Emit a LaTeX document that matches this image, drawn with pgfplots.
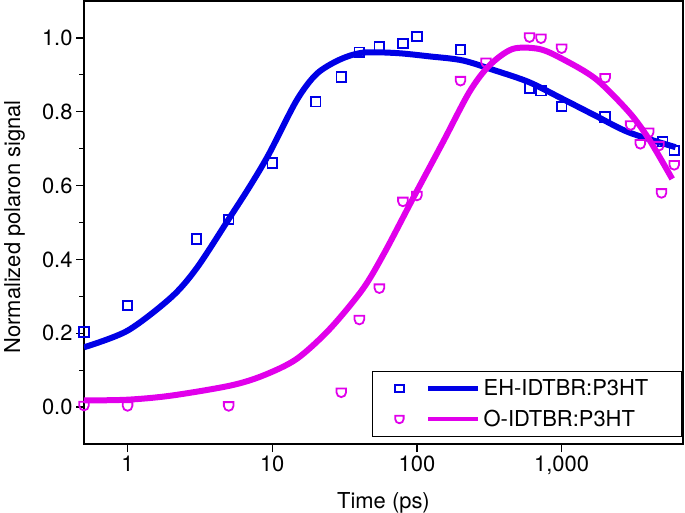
\documentclass[border=0pt]{standalone}
\usepackage{pgfplots}
\pgfplotsset{compat=1.18}
\usepackage{fontspec}
\setmainfont{TeX Gyre Heros}
\definecolor{eh}{RGB}{0,0,230}
\definecolor{oo}{RGB}{225,0,235}
% cup-shaped open marker (flat top, round bottom)
\pgfdeclareplotmark{cup}{%
  \pgfpathmoveto{\pgfqpoint{-\pgfplotmarksize}{0.8\pgfplotmarksize}}%
  \pgfpathlineto{\pgfqpoint{\pgfplotmarksize}{0.8\pgfplotmarksize}}%
  \pgfpathlineto{\pgfqpoint{\pgfplotmarksize}{0pt}}%
  \pgfpatharc{0}{-180}{\pgfplotmarksize}%
  \pgfpathclose
  \pgfusepathqstroke}
\begin{document}
\begin{tikzpicture}
\begin{axis}[
  scale only axis,
  width=599bp,
  height=443bp,
  xmode=log,
  log basis x=10,
  xmin=0.5, xmax=6900,
  ymin=-0.1, ymax=1.1,
  xtick={1,10,100,1000},
  xticklabels={1,10,100,{1,000}},
  ytick={0,0.2,0.4,0.6,0.8,1.0},
  minor y tick num=1,
  yticklabel style={/pgf/number format/.cd,fixed,fixed zerofill,precision=1},
  /pgf/number format/assume math mode=true,
  tick align=outside,
  tick pos=left,
  major tick length=8bp,
  minor tick length=5bp,
  axis line style={line width=1.6bp},
  every tick/.style={line width=1.2bp,black},
  font=\fontsize{22}{26}\selectfont,
  xlabel={Time (ps)},
  ylabel={Normalized polaron signal},
  xlabel style={at={(axis description cs:0.5,-0.1445)}, anchor=base, inner sep=0pt},
  ylabel style={at={(axis description cs:-0.0985,0.49)}, anchor=south, inner sep=0pt},
  legend style={
    at={(0.998,0.0158)},
    anchor=south east,
    draw=black,
    line width=1bp,
    fill=white,
    font=\fontsize{22}{26}\selectfont,
    inner xsep=0bp,
    inner ysep=7.5bp,
    row sep=11bp,
    nodes={inner xsep=3bp, inner ysep=1bp},
    /tikz/every even column/.append style={column sep=0bp}
  },
  legend cell align=left
]
% measured points
\addplot[only marks, mark=square, mark size=4.8bp, eh, line width=1.8bp, forget plot] coordinates {
(0.5,0.203) (1,0.275) (3,0.455) (5,0.508) (10,0.661) (20,0.827) (30,0.894)
(40,0.961) (55,0.976) (80,0.985) (100,1.004) (200,0.968) (600,0.864)
(720,0.857) (1000,0.814) (2000,0.786) (5000,0.719) (6000,0.695)
};
\addplot[only marks, mark=cup, mark size=4.8bp, oo, line width=1.8bp, forget plot] coordinates {
(0.5,0.004) (1,0.003) (5,0.003) (30,0.040) (40,0.237) (55,0.322) (80,0.557)
(100,0.573) (200,0.884) (300,0.934) (600,1.002) (720,0.999) (1000,0.972)
(2000,0.892) (3000,0.764) (3500,0.713) (4000,0.744) (4700,0.708)
(4900,0.580) (6000,0.656)
};
% fitted curves
\addplot[eh, line width=6bp, smooth,
  legend image code/.code={
    \path[draw=none] (-27bp,0bp) rectangle (0bp,0.1bp);
    \draw[eh,line width=1.8bp] (-4.5bp,-3.5bp) rectangle (4.5bp,3.5bp);
    \draw[eh,line width=4.5bp] (29bp,0bp) -- (79bp,0bp);}
] coordinates {
(0.5,0.162) (1,0.207) (2,0.297) (3,0.376) (5,0.509) (7,0.598) (9.5,0.686)
(14.7,0.830) (20.2,0.902) (29.2,0.941) (42.3,0.960) (72,0.959) (122,0.950)
(207,0.939) (352,0.911) (597,0.880) (1013,0.835) (1720,0.789) (2922,0.744)
(6135,0.704)
};
\addlegendentry{EH-IDTBR:P3HT\hspace*{30bp}}
\addplot[oo, line width=6bp, smooth,
  legend image code/.code={
    \path[draw=none] (-27bp,0bp) rectangle (0bp,0.1bp);
    \draw[oo,line width=1.8bp,mark size=4.2bp] plot[mark=cup] coordinates {(0bp,0bp)};
    \draw[oo,line width=4.5bp] (29bp,0bp) -- (79bp,0bp);}
] coordinates {
(0.5,0.018) (1,0.020) (2,0.031) (5.1,0.058) (8.6,0.085) (14.7,0.130)
(24.9,0.211) (42.3,0.320) (60,0.420) (93.5,0.564) (151,0.717) (230,0.853)
(316,0.925) (458,0.970) (700,0.970) (1013,0.943) (1720,0.889) (2922,0.799)
(4010,0.726) (5810,0.618)
};
\addlegendentry{O-IDTBR:P3HT}
\end{axis}
\pgfresetboundingbox
\path ([xshift=-84bp,yshift=-69bp]current axis.south west)
  rectangle ([xshift=2bp,yshift=1bp]current axis.north east);
\end{tikzpicture}
\end{document}
